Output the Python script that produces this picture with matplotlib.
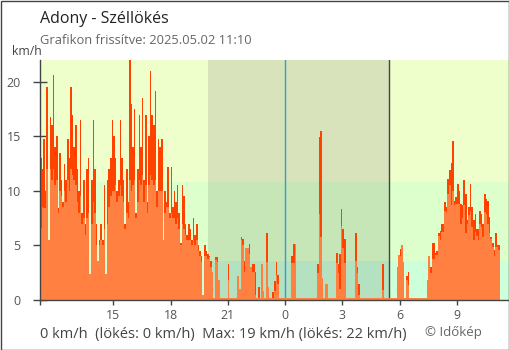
import matplotlib
matplotlib.use('Agg')
import matplotlib.pyplot as plt
import numpy as np
from matplotlib.patches import Rectangle

plt.rcParams['font.family'] = ['Open Sans', 'DejaVu Sans']

# ---- data (5-minute samples starting 2025.05.01 11:10) ----
start_hour = 11 + 10 / 60
step_min = 5

gust = [
    13, 12, 14.8, 10, 19.5, 5.5, 16.8, 16, 20.6, 14,
    15, 8.4, 13.5, 11, 9, 12.5, 11, 14.8, 13, 19.5,
    17, 14, 16, 12, 10, 16.5, 8, 11, 7, 12,
    13, 2.4, 11, 16.5, 12, 7, 3.6, 5.5, 7, 5.5,
    10.5, 2.4, 11, 12, 13, 16.5, 15, 13, 10, 11,
    16.5, 13, 11, 7, 12, 9, 22, 18, 14, 17.5,
    8, 12, 17, 14, 18.5, 11, 17, 9, 15, 21,
    17, 16, 19.2, 10, 14.8, 14, 14.8, 5.5, 10, 9,
    12.2, 8, 12.2, 8.5, 10, 9, 10.5, 8, 5.2, 10.5,
    9.5, 7, 6, 7, 6.5, 5.5, 7.5, 6, 7, 5,
    4.5, 4, 0.5, 5, 4.5, 4.2,
    4, 3.6, 2.6, 0, 3.9, 3.9, 1.8, 0, 0, 0,
    0, 0, 3.3, 0, 0, 0, 0, 0, 2.2, 1,
    5.8, 5.6, 3.6, 4.8, 4.8, 5.1, 3.0, 3.3, 3.3, 2.6,
    0, 1.2, 0, 3.3, 0.8, 0, 6.1, 1.2, 0, 0,
    0.7, 1.7, 3.5, 2.3, 0, 0, 0, 0, 0, 0,
    0, 0, 4, 5.1, 5.1, 0, 0, 0, 0, 0,
    0, 0, 0, 0, 0, 0, 0, 0, 3.3, 14.9,
    15.5, 2.0, 0, 1.5, 1.5, 0, 0, 0, 0, 0,
    4.3, 3.3, 4.2, 8.3, 6.5, 5.6, 0, 0, 0, 0,
    0, 0, 6.1, 3.0, 1.5, 0, 0, 0, 0, 0,
    0, 0, 0, 0, 0, 0, 0, 0, 0, 3.3,
    0, 0, 0, 0, 0, 0, 0, 0, 3.0, 4.1,
    4.7, 5.0, 3.5, 0, 2.2, 2.6, 0, 0, 0, 0,
    0, 0, 0, 0, 0, 0, 0, 1.8, 4.0, 3.0,
    5.2, 5.2, 4.3, 4.5, 6.1, 6.3, 7.0, 7.0, 9.0, 8.5,
    11.1, 11.9, 12.6, 14.6, 9.1, 9.4, 10.6, 10.0, 8.8, 8.7,
    11.0, 9.7, 7.3, 8.5, 10.6, 8.5, 7.3, 7.9, 6.5, 6.5,
    8.2, 7.9, 7.0, 9.7, 9.3, 9.1, 7.6, 5.8, 5.2, 4.6,
    6.1, 5.0, 5.0,
]

wind = [
    6.6, 8.5, 8.4, 8.4, 12, 5.5, 12, 11, 12, 10.5,
    11, 8, 10, 9.5, 8.5, 10, 9, 11, 10, 12,
    11.5, 11, 10.5, 9, 8, 9.5, 7, 7.5, 6, 7.5,
    8, 2.4, 7, 9, 8, 5, 3.6, 5, 5.5, 5,
    6.5, 2.4, 7, 8.5, 9.5, 10, 10, 10.5, 9, 9.5,
    10.5, 9.5, 9, 6.5, 8, 7.5, 11, 10, 10.5, 11,
    7.5, 9, 11, 10.5, 11.5, 9, 10.5, 8, 10.5, 11.5,
    11, 10.5, 11, 8.5, 10, 10, 10, 5.5, 8, 8.5,
    8.5, 7.5, 8, 7.5, 7.5, 7, 7.5, 6.5, 5, 7,
    6.5, 6, 5.5, 5.5, 5.5, 5, 5.5, 5, 5.5, 4.5,
    4, 3.5, 0.5, 4, 4, 3.8,
    3.9, 3.0, 2.6, 0, 3.7, 3.5, 1.8, 0, 0, 0,
    0, 0, 1.8, 0, 0, 0, 0, 0, 2.2, 1,
    5.5, 5.0, 2.6, 4.8, 4.8, 4.2, 3.0, 2.6, 2.6, 0.5,
    0, 0, 0, 3.3, 0.8, 0, 3.5, 1.2, 0, 0,
    0, 0.8, 2.3, 1.5, 0, 0, 0, 0, 0, 0,
    0, 0, 3.4, 3.4, 5.1, 0, 0, 0, 0, 0,
    0, 0, 0, 0, 0, 0, 0, 0, 2.5, 7.9,
    5.8, 2.0, 0, 1.5, 1.5, 0, 0, 0, 0, 0,
    3.4, 2.5, 1.0, 6.8, 4.8, 3.4, 0, 0, 0, 0,
    0, 0, 3.6, 2.5, 0.5, 0, 0, 0, 0, 0,
    0, 0, 0, 0, 0, 0, 0, 0, 0, 0.9,
    0, 0, 0, 0, 0, 0, 0, 0, 3.0, 4.1,
    4.0, 5.0, 3.5, 0, 1.8, 1.4, 0, 0, 0, 0,
    0, 0, 0, 0, 0, 0, 0, 1.8, 4.0, 2.5,
    3.8, 3.8, 4.1, 4.1, 5.9, 5.5, 6.2, 6.2, 8.2, 8.1,
    9.7, 10.5, 8.7, 10, 8.7, 8.8, 8.8, 8.8, 7.0, 7.5,
    8.7, 6.1, 7.0, 7.8, 8.2, 6.7, 5.5, 6.2, 5.9, 5.5,
    7.0, 6.7, 5.8, 8.1, 7.9, 7.0, 6.1, 5.6, 4.9, 4.0,
    4.9, 4.9, 4.6,
]

tick_hours = [start_hour, 15, 18, 21, 24, 27, 30, 33]
tick_labels = ['', '15', '18', '21', '0', '3', '6', '9']
yticks = [0, 5, 10, 15, 20]

night_start = 19 + 58 / 60
night_end = 24 + 5 + 26 / 60
midnight = 24

bands = [(0, 3.6), (3.6, 10.8), (10.8, 22)]
day_colors = ['#ccffda', '#ddffcc', '#eeffcc']
night_colors = ['#b4e2c0', '#c6e6b8', '#d8e3bb']

title = 'Adony - Széllökés'
subtitle = 'Grafikon frissítve: 2025.05.02 11:10'
unit = 'km/h'
summary = '0 km/h  (lökés: 0 km/h)  Max: 19 km/h (lökés: 22 km/h)'
credit = '© Időkép'

# ---- figure ----
W, H = 510, 350
fig = plt.figure(figsize=(W / 100, H / 100), dpi=100)
ax = fig.add_axes([40 / W, 1 - 300 / H, 469 / W, 240 / H])

t = start_hour + np.arange(len(gust)) * step_min / 60
bw = step_min / 60
xmax = start_hour + 469 / 19.1
ax.set_xlim(start_hour, xmax)
ax.set_ylim(0, 22)

for (lo, hi), dc, nc in zip(bands, day_colors, night_colors):
    ax.axhspan(lo, hi, color=dc, lw=0, zorder=0)
    ax.add_patch(Rectangle((night_start, lo), night_end - night_start, hi - lo,
                           facecolor=nc, lw=0, zorder=0.5))

ax.axvline(midnight, color='#3399dd', lw=1, zorder=1)
ax.axvline(night_end, color='#444444', lw=1, zorder=1)

ax.bar(t, gust, width=bw, align='edge', color='#ff4200', lw=0, zorder=2)
ax.bar(t, wind, width=bw, align='edge', color='#ff8040', lw=0, zorder=3)
ax.fill_between([t[0], t[-1] + bw], 0, 0.2, color='#ff8040', lw=0, zorder=3)

for s in ['top', 'right']:
    ax.spines[s].set_visible(False)
for s in ['left', 'bottom']:
    ax.spines[s].set_color('#444444')
    ax.spines[s].set_linewidth(1)
    ax.spines[s].set_zorder(4)

ax.set_yticks(yticks)
ax.set_xticks(tick_hours)
ax.set_xticklabels(tick_labels)
ax.tick_params(axis='y', direction='inout', length=9.7, width=1, color='#444444',
               labelcolor='#555555', labelsize=9, pad=9)
ax.tick_params(axis='x', direction='out', length=3.6, width=1, color='#444444',
               labelcolor='#555555', labelsize=8.8, pad=3)

fig.text(40.5 / W, 1 - 23.3 / H, title, fontsize=11.5, color='#222222', va='baseline')
fig.text(40.5 / W, 1 - 44.3 / H, subtitle, fontsize=9.3, color='#666666', va='baseline')
fig.text(12.5 / W, 1 - 55 / H, unit, fontsize=8.8, color='#444444', va='baseline')
fig.text(40.5 / W, 1 - 338.3 / H, summary, fontsize=10.5, color='#444444', va='baseline')
fig.text(425 / W, 1 - 335.7 / H, credit, fontsize=9.5, color='#666666', va='baseline')

fig.patches.append(Rectangle((0.5 / W, 0.5 / H), 1 - 1.5 / W, 1 - 1.5 / H,
                             transform=fig.transFigure, fill=False,
                             edgecolor='#444444', lw=1))

fig.savefig('out.png', dpi=100)
